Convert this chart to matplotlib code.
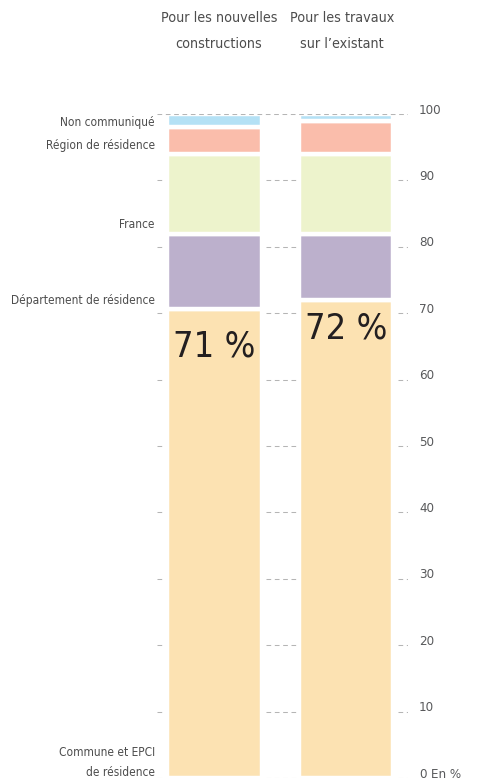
import matplotlib
matplotlib.use("Agg")
import matplotlib.pyplot as plt
from matplotlib import font_manager

# Origine des entreprises, en % des chantiers
columns = ["Pour les nouvelles\nconstructions", "Pour les travaux\nsur l’existant"]
categories = ["Commune et EPCI\nde résidence", "Département de résidence",
              "France", "Région de résidence", "Non communiqué"]
nouvelles = [70.6, 11.4, 12.0, 4.0, 2.0]
travaux = [72.0, 10.0, 12.0, 5.0, 1.0]
colors = ["#fce2b2", "#bcb0cc", "#edf3cc", "#fabdab", "#b4e1f5"]
yticks = [0, 10, 20, 30, 40, 50, 60, 70, 80, 90, 100]

# Vertical anchor (data units) of each category label on the left
label_y = [0.3, 71.4, 82.9, 94.7, 98.2]

names = {f.name for f in font_manager.fontManager.ttflist}
if "Liberation Sans Narrow" in names:
    FONT = dict(family="Liberation Sans Narrow")
else:
    FONT = dict(family="DejaVu Sans", stretch="condensed")

W, H = 478, 780
fig = plt.figure(figsize=(W / 100, H / 100), dpi=100)
ax = fig.add_axes([157 / W, 2 / H, (408 - 157) / W, (778 - 114) / H])
X0, X1 = -0.437, 1.471
ax.set_xlim(X0, X1)
ax.set_ylim(0, 100)
ax.axis("off")

BAR_W = 0.72
PX = (X1 - X0) / (408 - 157)  # data units per pixel along x

# Dashed guide lines: short pieces left, between and right of the bars
dash = dict(color="#b5b5b5", lw=0.75, ls=(0, (4.5, 3.5)))
pieces = [(X0, -BAR_W / 2 - 2 * PX),
          (BAR_W / 2 + 4 * PX, 1 - BAR_W / 2 - 2 * PX),
          (1 + BAR_W / 2 + 5 * PX, X1)]
for v in yticks:
    if v == 100:
        ax.hlines(v, X0, X1, zorder=3, **dash)
    else:
        for a, b in pieces:
            ax.hlines(v, a, b, zorder=0, **dash)

# Stacked bars
series = [nouvelles, travaux]
for i, vals in enumerate(series):
    bottom = 0.0
    for v, c in zip(vals, colors):
        ax.bar(i, v, bottom=bottom, width=BAR_W, color=c, edgecolor="white",
               linewidth=3.2, zorder=1)
        bottom += v

# Share of the first segment written inside each bar
big_offsets = [-47, -39]
for i, vals in enumerate(series):
    ax.annotate(f"{vals[0]:.0f} %", xy=(i, vals[0]), xytext=(0, big_offsets[i]),
                textcoords="offset pixels", ha="center", va="baseline",
                fontsize=26, color="#231f20", **FONT)

# Category labels
for lab, y in zip(categories, label_y):
    ax.annotate(lab, xy=(0, y), xycoords=("axes fraction", "data"),
                xytext=(-2, 0), textcoords="offset pixels", ha="right",
                va="baseline", fontsize=8.6, color="#4d4d4d",
                linespacing=1.75, **FONT)

# Scale on the right
for v in yticks:
    ax.annotate(str(v), xy=(1, v), xycoords=("axes fraction", "data"),
                xytext=(11, 4), textcoords="offset pixels", ha="left",
                va="center", fontsize=9.5, color="#58595b", **FONT)
ax.annotate("En %", xy=(1, 0), xycoords=("axes fraction", "data"),
            xytext=(23, 4), textcoords="offset pixels", ha="left",
            va="center", fontsize=9.5, color="#58595b", **FONT)

# Column headers
for x, txt in zip([219, 342], columns):
    fig.text(x / W, 1 - 11 / H, txt, ha="center", va="top", fontsize=10.3,
             color="#4d4d4d", linespacing=2.1, **FONT)

fig.savefig("out.png", dpi=100)
